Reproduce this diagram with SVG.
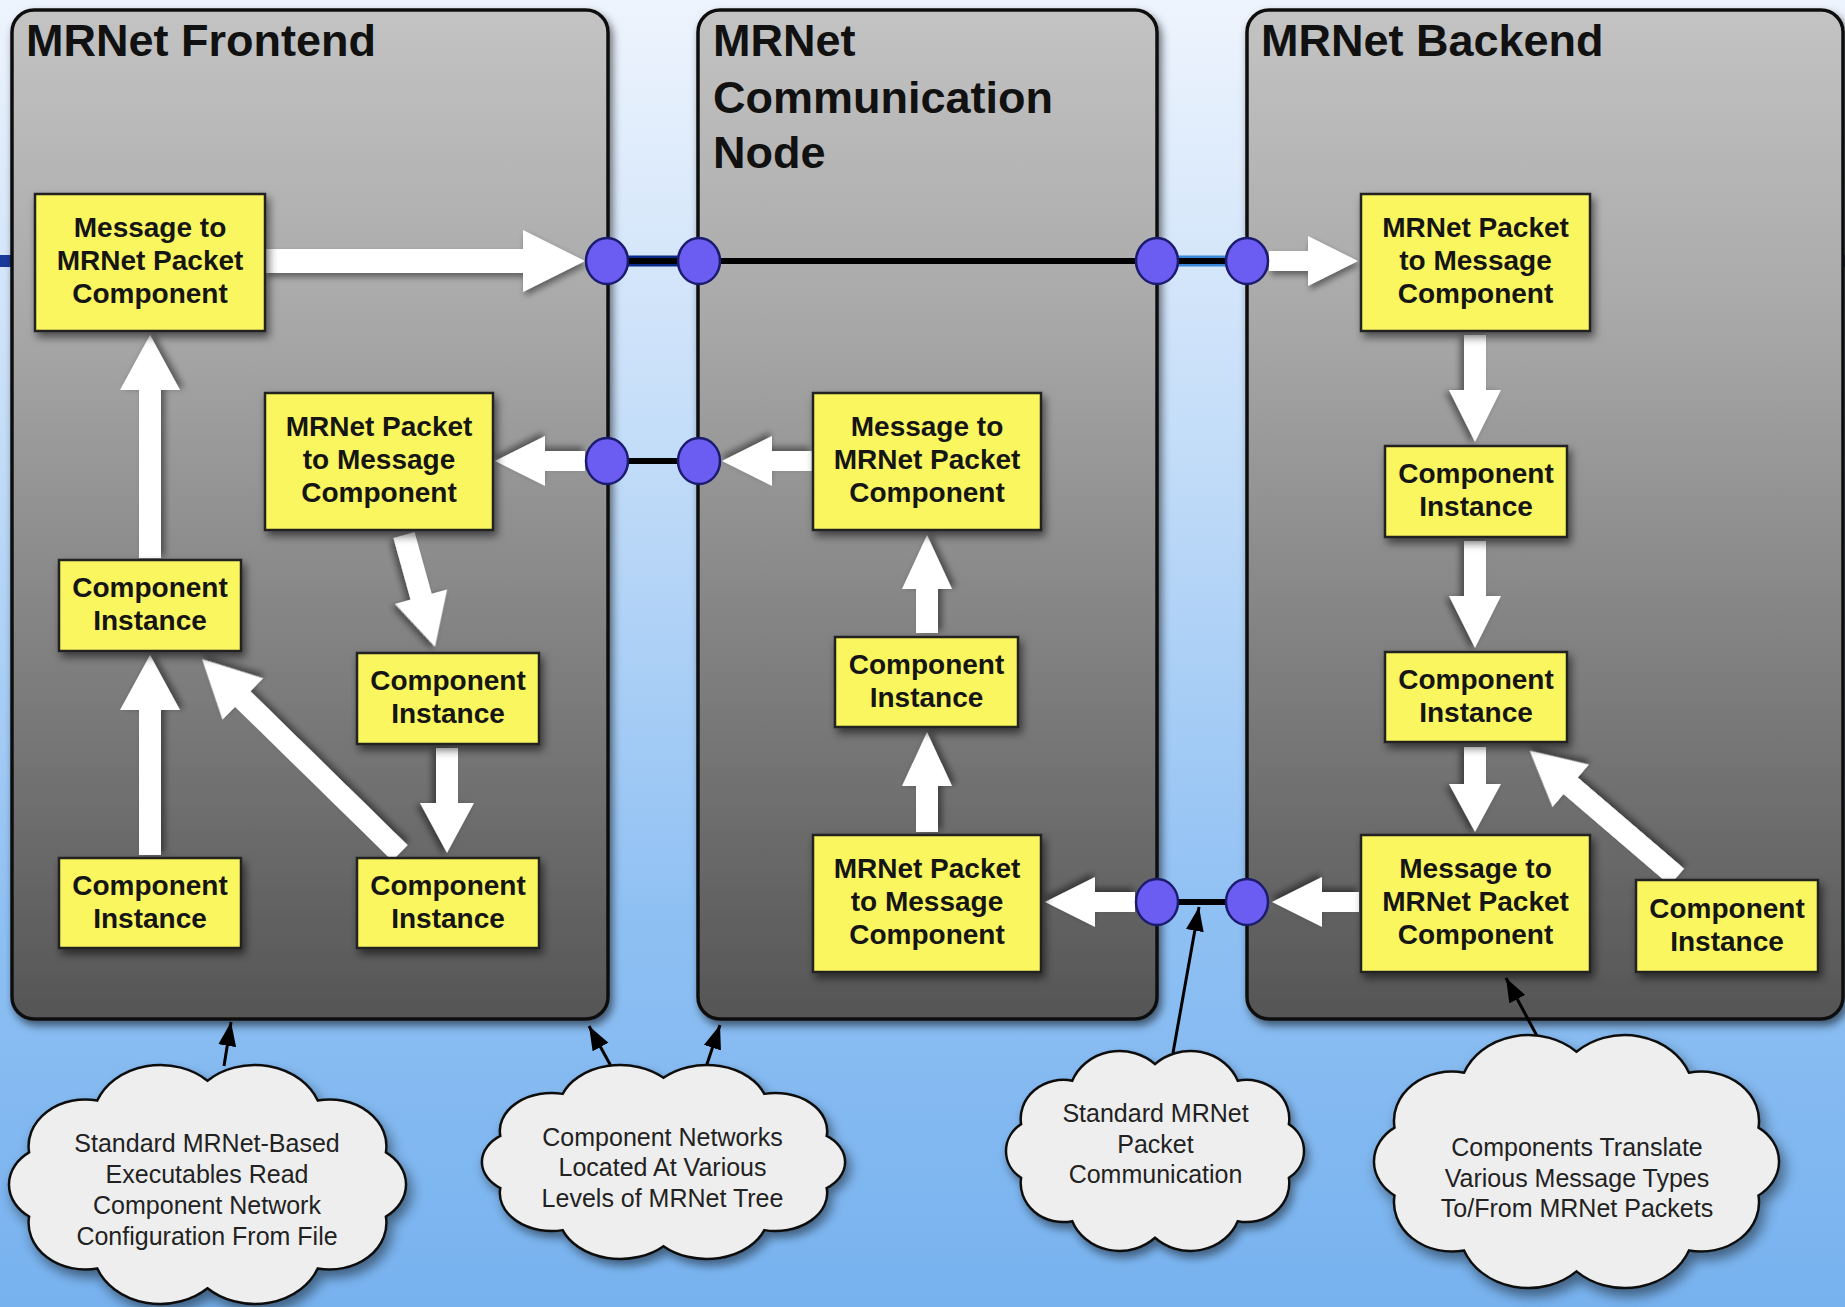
<svg xmlns="http://www.w3.org/2000/svg" xmlns:xlink="http://www.w3.org/1999/xlink" width="1845" height="1307" viewBox="0 0 1845 1307">
<defs>
<linearGradient id="bg" x1="0" y1="0" x2="0" y2="1">
<stop offset="0" stop-color="#eef4fd"/>
<stop offset="0.35" stop-color="#c2dcf8"/>
<stop offset="0.7" stop-color="#8fc0f3"/>
<stop offset="1" stop-color="#77b2ef"/>
</linearGradient>
<linearGradient id="panel" x1="0" y1="0" x2="0" y2="1">
<stop offset="0" stop-color="#c3c3c3"/>
<stop offset="0.3" stop-color="#a9a9a9"/>
<stop offset="1" stop-color="#555555"/>
</linearGradient>
<filter id="sh" x="-10%" y="-10%" width="130%" height="130%">
<feDropShadow dx="3" dy="5" stdDeviation="4" flood-color="#000" flood-opacity="0.55"/>
</filter>
<filter id="ash" x="-20%" y="-20%" width="150%" height="150%">
<feDropShadow dx="2" dy="4" stdDeviation="3" flood-color="#000" flood-opacity="0.45"/>
</filter>
<path id="cloud" d="M100,17 A31,31 0 0 1 150.55,28.08 A26,26 0 0 1 181.79,57.08 A22,22 0 0 1 181.79,92.92 A26,26 0 0 1 150.55,121.92 A31,31 0 0 1 100,133 A31,31 0 0 1 49.45,121.92 A26,26 0 0 1 18.21,92.92 A22,22 0 0 1 18.21,57.08 A26,26 0 0 1 49.45,28.08 A31,31 0 0 1 100,17 Z" fill="#eeeeee" stroke="#111" stroke-width="2.5" vector-effect="non-scaling-stroke"/>
<marker id="ah" markerUnits="userSpaceOnUse" markerWidth="26" markerHeight="20" refX="24" refY="9" orient="auto">
<path d="M0,0 L24,9 L0,18 Z" fill="#000"/>
</marker>
</defs>
<style>
.panel{fill:url(#panel);stroke:#111;stroke-width:3.5;filter:url(#sh)}
.title{font-family:"Liberation Sans",Arial,Helvetica,sans-serif;font-weight:bold;font-size:45px;fill:#111}
.box rect{fill:#faf65e;stroke:#222;stroke-width:2.5;filter:url(#sh)}
.box text{font-family:"Liberation Sans",Arial,Helvetica,sans-serif;font-weight:bold;font-size:28px;fill:#151515;text-anchor:middle}
.fat{fill:#ffffff;filter:url(#ash)}
.port{fill:#6b5cf2;stroke:#1c1c6e;stroke-width:2.5}
.wire{stroke:#000;stroke-width:6;fill:none}
.ctext{font-family:"Liberation Sans",Arial,Helvetica,sans-serif;font-size:25px;fill:#222;text-anchor:middle}
.callout{stroke:#000;stroke-width:3;fill:none;marker-end:url(#ah)}
</style>
<rect x="0" y="0" width="1845" height="1307" fill="url(#bg)"/>
<rect x="0" y="255" width="14" height="12" fill="#1a3a9a"/>
<rect x="1840" y="255" width="5" height="12" fill="#1a3a9a"/>

<g id="panel-frontend">
<rect class="panel" x="12" y="10" width="596" height="1009" rx="22"/>
<text class="title" x="26" y="56">MRNet Frontend</text>
</g>
<g id="panel-comm">
<rect class="panel" x="698" y="10" width="459" height="1009" rx="22"/>
<text class="title" x="713" y="56">MRNet</text>
<text class="title" x="713" y="113">Communication</text>
<text class="title" x="713" y="168">Node</text>
</g>
<g id="panel-backend">
<rect class="panel" x="1247" y="10" width="596" height="1009" rx="22"/>
<text class="title" x="1261" y="56">MRNet Backend</text>
</g>

<g id="connectors">
<line x1="607" y1="261" x2="699" y2="261" stroke="#0a2a8a" stroke-width="11"/>
<line x1="1157" y1="261" x2="1247" y2="261" stroke="#3a86d8" stroke-width="11"/>
<line class="wire" x1="607" y1="261" x2="1247" y2="261"/>
<line class="wire" x1="607" y1="461" x2="699" y2="461"/>
<line class="wire" x1="1157" y1="902" x2="1247" y2="902"/>
<polygon class="fat" transform="translate(265,261)" points="0,-12 258,-12 258,-31 320,0 258,31 258,12 0,12"/>
<polygon class="fat" transform="translate(585,461) rotate(180)" points="0,-10 40,-10 40,-25 90,0 40,25 40,10 0,10"/>
<polygon class="fat" transform="translate(404,535) rotate(74.5)" points="0,-11 64,-11 64,-27 116,0 64,27 64,11 0,11"/>
<polygon class="fat" transform="translate(447,748) rotate(90)" points="0,-11 55,-11 55,-27 105,0 55,27 55,11 0,11"/>
<polygon class="fat" transform="translate(400,853) rotate(-135.6)" points="0,-11 220,-11 220,-29 277,0 220,29 220,11 0,11"/>
<polygon class="fat" transform="translate(150,855) rotate(-90)" points="0,-11 145,-11 145,-30 200,0 145,30 145,11 0,11"/>
<polygon class="fat" transform="translate(150,558) rotate(-90)" points="0,-11 168,-11 168,-30 223,0 168,30 168,11 0,11"/>
<polygon class="fat" transform="translate(812,461) rotate(180)" points="0,-10 40,-10 40,-25 90,0 40,25 40,10 0,10"/>
<polygon class="fat" transform="translate(927,633) rotate(-90)" points="0,-11 44,-11 44,-25 98,0 44,25 44,11 0,11"/>
<polygon class="fat" transform="translate(927,832) rotate(-90)" points="0,-11 46,-11 46,-25 100,0 46,25 46,11 0,11"/>
<polygon class="fat" transform="translate(1135,902) rotate(180)" points="0,-10 40,-10 40,-25 90,0 40,25 40,10 0,10"/>
<polygon class="fat" transform="translate(1269,261)" points="0,-10 39,-10 39,-25 89,0 39,25 39,10 0,10"/>
<polygon class="fat" transform="translate(1475,335) rotate(90)" points="0,-11 55,-11 55,-26 107,0 55,26 55,11 0,11"/>
<polygon class="fat" transform="translate(1475,541) rotate(90)" points="0,-11 55,-11 55,-26 107,0 55,26 55,11 0,11"/>
<polygon class="fat" transform="translate(1475,747) rotate(90)" points="0,-11 37,-11 37,-26 85,0 37,26 37,11 0,11"/>
<polygon class="fat" transform="translate(1677,877) rotate(-139.4)" points="0,-11 140,-11 140,-28 194,0 140,28 140,11 0,11"/>
<polygon class="fat" transform="translate(1359,902) rotate(180)" points="0,-10 37,-10 37,-25 87,0 37,25 37,10 0,10"/>
<line class="callout" x1="224" y1="1066" x2="231" y2="1022"/>
<line class="callout" x1="612" y1="1068" x2="589" y2="1026"/>
<line class="callout" x1="704" y1="1073" x2="720" y2="1025"/>
<line class="callout" x1="1173" y1="1053" x2="1199" y2="907"/>
<line class="callout" x1="1537" y1="1036" x2="1506" y2="978"/>
</g>

<g id="ports">
<ellipse class="port" cx="607" cy="261" rx="21" ry="23"/>
<ellipse class="port" cx="699" cy="261" rx="21" ry="23"/>
<ellipse class="port" cx="1157" cy="261" rx="21" ry="23"/>
<ellipse class="port" cx="1247" cy="261" rx="21" ry="23"/>
<ellipse class="port" cx="607" cy="461" rx="21" ry="23"/>
<ellipse class="port" cx="699" cy="461" rx="21" ry="23"/>
<ellipse class="port" cx="1157" cy="902" rx="21" ry="23"/>
<ellipse class="port" cx="1247" cy="902" rx="21" ry="23"/>
</g>

<g id="fe-msg2pkt" class="box"><rect x="35" y="194" width="230" height="137"/><text x="150" y="237">Message to</text><text x="150" y="270">MRNet Packet</text><text x="150" y="303">Component</text></g>
<g id="fe-pkt2msg" class="box"><rect x="265" y="393" width="228" height="137"/><text x="379" y="436">MRNet Packet</text><text x="379" y="469">to Message</text><text x="379" y="502">Component</text></g>
<g id="fe-ci-mid-left" class="box"><rect x="59" y="560" width="182" height="91"/><text x="150" y="597">Component</text><text x="150" y="630">Instance</text></g>
<g id="fe-ci-mid-right" class="box"><rect x="357" y="653" width="182" height="91"/><text x="448" y="690">Component</text><text x="448" y="723">Instance</text></g>
<g id="fe-ci-bot-left" class="box"><rect x="59" y="858" width="182" height="90"/><text x="150" y="895">Component</text><text x="150" y="928">Instance</text></g>
<g id="fe-ci-bot-right" class="box"><rect x="357" y="858" width="182" height="90"/><text x="448" y="895">Component</text><text x="448" y="928">Instance</text></g>

<g id="cn-msg2pkt" class="box"><rect x="813" y="393" width="228" height="137"/><text x="927" y="436">Message to</text><text x="927" y="469">MRNet Packet</text><text x="927" y="502">Component</text></g>
<g id="cn-ci" class="box"><rect x="835" y="637" width="183" height="90"/><text x="926.5" y="674">Component</text><text x="926.5" y="707">Instance</text></g>
<g id="cn-pkt2msg" class="box"><rect x="813" y="835" width="228" height="137"/><text x="927" y="878">MRNet Packet</text><text x="927" y="911">to Message</text><text x="927" y="944">Component</text></g>

<g id="be-pkt2msg" class="box"><rect x="1361" y="194" width="229" height="137"/><text x="1475.5" y="237">MRNet Packet</text><text x="1475.5" y="270">to Message</text><text x="1475.5" y="303">Component</text></g>
<g id="be-ci-1" class="box"><rect x="1385" y="446" width="182" height="91"/><text x="1476" y="483">Component</text><text x="1476" y="516">Instance</text></g>
<g id="be-ci-2" class="box"><rect x="1385" y="652" width="182" height="90"/><text x="1476" y="689">Component</text><text x="1476" y="722">Instance</text></g>
<g id="be-msg2pkt" class="box"><rect x="1361" y="835" width="229" height="137"/><text x="1475.5" y="878">Message to</text><text x="1475.5" y="911">MRNet Packet</text><text x="1475.5" y="944">Component</text></g>
<g id="be-ci-3" class="box"><rect x="1636" y="880" width="182" height="92"/><text x="1727" y="918">Component</text><text x="1727" y="951">Instance</text></g>

<g id="cloud-config">
<use xlink:href="#cloud" href="#cloud" transform="translate(-10.6,1050.3) scale(2.181,1.789)" filter="url(#ash)"/>
<text class="ctext" x="207" y="1152">Standard MRNet-Based</text>
<text class="ctext" x="207" y="1183">Executables Read</text>
<text class="ctext" x="207" y="1214">Component Network</text>
<text class="ctext" x="207" y="1245">Configuration From File</text>
</g>
<g id="cloud-levels">
<use xlink:href="#cloud" href="#cloud" transform="translate(464,1053.1) scale(1.995,1.452)" filter="url(#ash)"/>
<text class="ctext" x="662.5" y="1146">Component Networks</text>
<text class="ctext" x="662.5" y="1176">Located At Various</text>
<text class="ctext" x="662.5" y="1207">Levels of MRNet Tree</text>
</g>
<g id="cloud-packet">
<use xlink:href="#cloud" href="#cloud" transform="translate(991.3,1038.7) scale(1.637,1.497)" filter="url(#ash)"/>
<text class="ctext" x="1155.5" y="1122">Standard MRNet</text>
<text class="ctext" x="1155.5" y="1153">Packet</text>
<text class="ctext" x="1155.5" y="1183">Communication</text>
</g>
<g id="cloud-translate">
<use xlink:href="#cloud" href="#cloud" transform="translate(1354,1019.5) scale(2.225,1.894)" filter="url(#ash)"/>
<text class="ctext" x="1577" y="1156">Components Translate</text>
<text class="ctext" x="1577" y="1187">Various Message Types</text>
<text class="ctext" x="1577" y="1217">To/From MRNet Packets</text>
</g>
</svg>
